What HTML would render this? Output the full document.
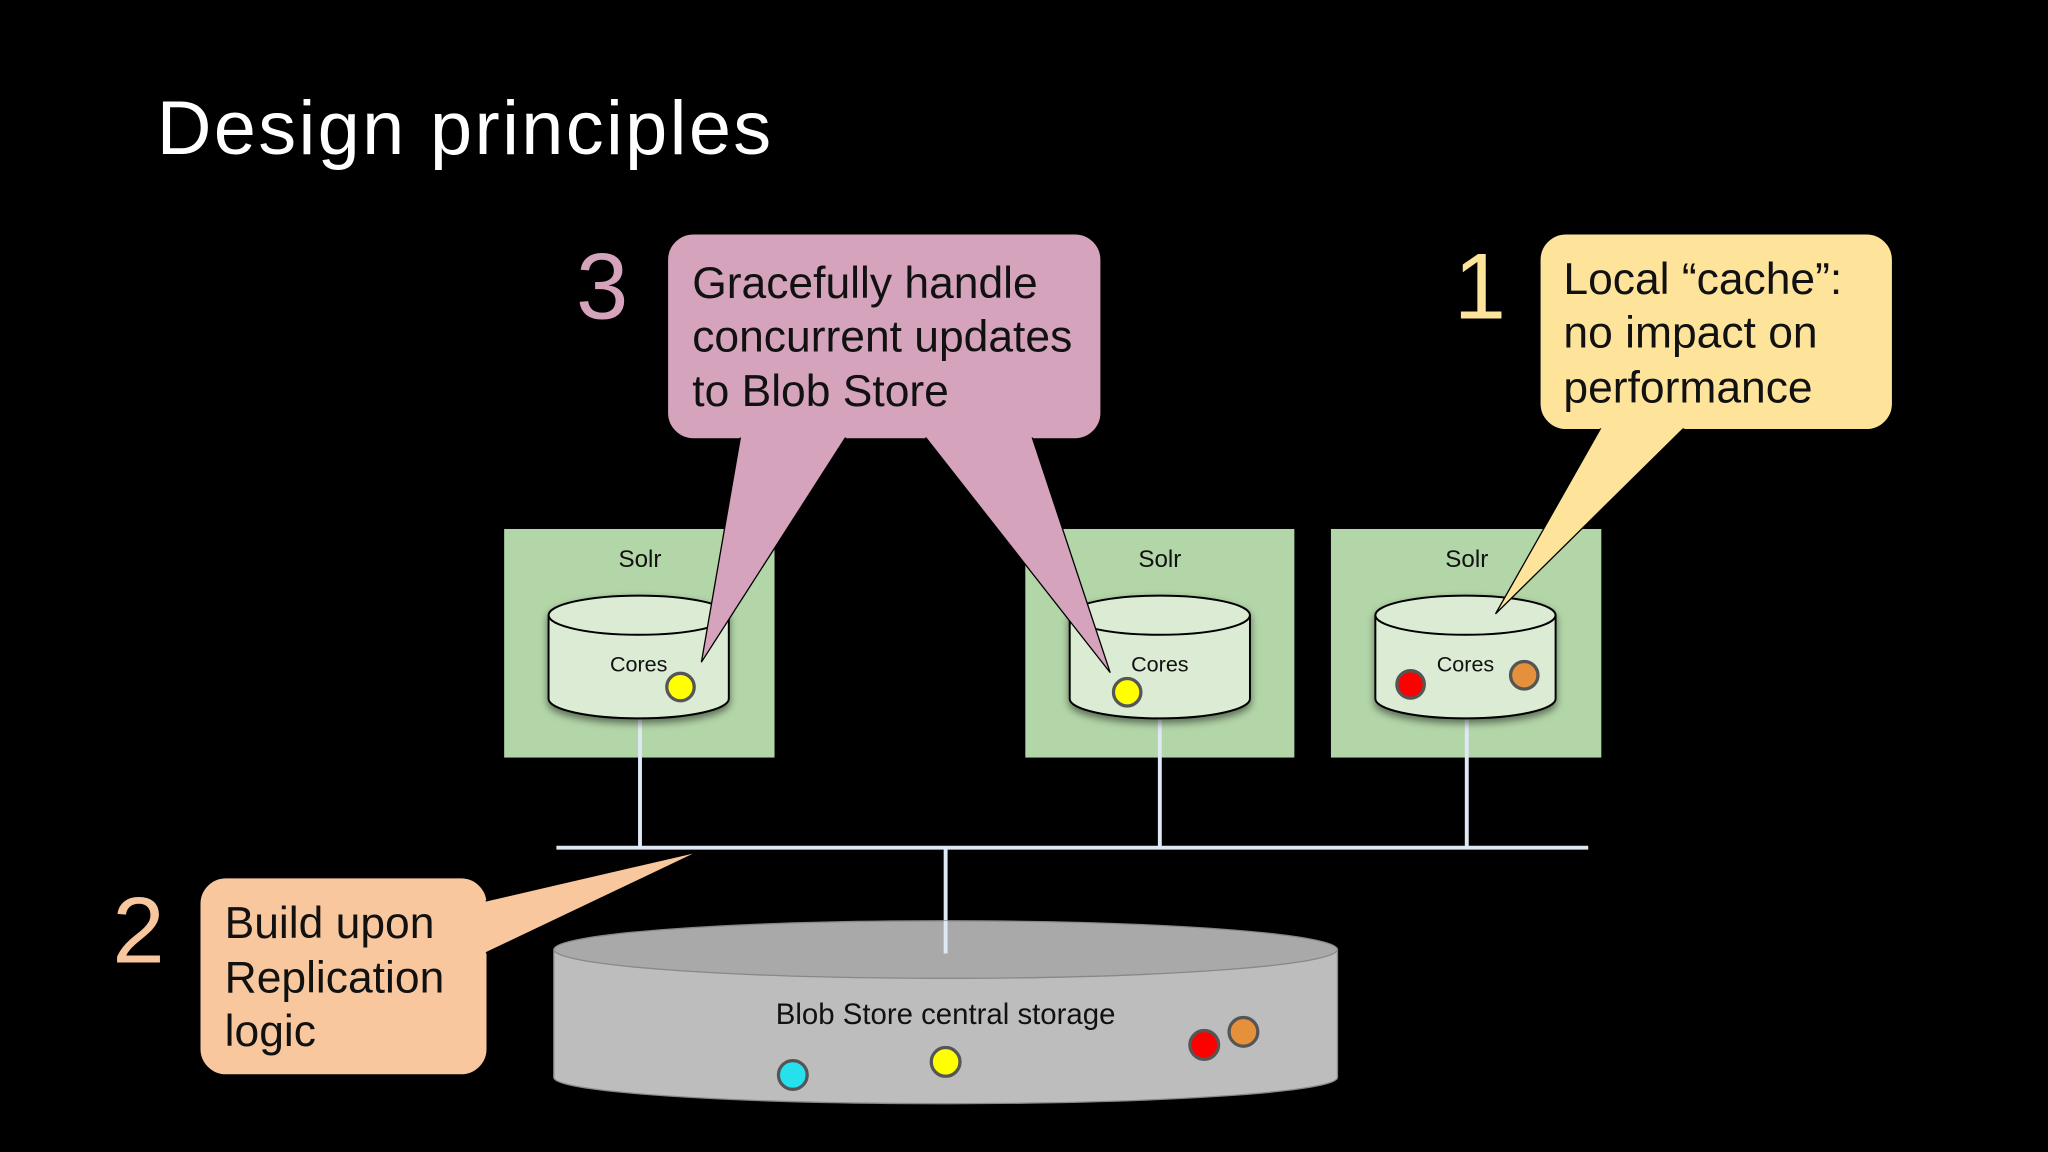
<!DOCTYPE html>
<html><head><meta charset="utf-8"><style>
html,body{margin:0;padding:0;background:#000;width:2048px;height:1152px;overflow:hidden}
svg{display:block}
text{font-family:"Liberation Sans",sans-serif}
</style></head><body>
<svg width="2048" height="1152" viewBox="0 0 1568 882" xmlns="http://www.w3.org/2000/svg">
<defs>
<filter id="sh" x="-20%" y="-20%" width="140%" height="160%"><feDropShadow dx="0" dy="3" stdDeviation="3" flood-color="#000" flood-opacity="0.5"/></filter>
</defs>
<rect width="1568" height="882" fill="#000"/>
<text x="120" y="118" font-size="58" letter-spacing="1.8" fill="#fff">Design principles</text>

<g>
<rect x="386" y="405" width="207" height="175" fill="#b3d6a8"/>
<rect x="785" y="405" width="206" height="175" fill="#b3d6a8"/>
<rect x="1019" y="405" width="207" height="175" fill="#b3d6a8"/>
<text x="490" y="434" font-size="18.5" text-anchor="middle" fill="#111">Solr</text>
<text x="888" y="434" font-size="18.5" text-anchor="middle" fill="#111">Solr</text>
<text x="1123" y="434" font-size="18.5" text-anchor="middle" fill="#111">Solr</text>
</g>

<g stroke="#dfe8f5" stroke-width="3" fill="none">
<line x1="490" y1="550" x2="490" y2="648"/>
<line x1="888" y1="550" x2="888" y2="648"/>
<line x1="1123" y1="550" x2="1123" y2="648"/>
<line x1="426" y1="649" x2="1216" y2="649"/>
<line x1="724" y1="649" x2="724" y2="730"/>
</g>

<g stroke="#000" stroke-width="1.5" fill="#dcebd4">
<g filter="url(#sh)">
<path d="M420,471 L420,535 A69,15 0 0 0 558,535 L558,471"/>
<ellipse cx="489" cy="471" rx="69" ry="15"/>
</g>
<g filter="url(#sh)">
<path d="M819,471 L819,535 A69,15 0 0 0 957,535 L957,471"/>
<ellipse cx="888" cy="471" rx="69" ry="15"/>
</g>
<g filter="url(#sh)">
<path d="M1053,471 L1053,535 A69,15 0 0 0 1191,535 L1191,471"/>
<ellipse cx="1122" cy="471" rx="69" ry="15"/>
</g>
</g>
<text x="489" y="514" font-size="16.5" text-anchor="middle" fill="#111">Cores</text>
<text x="888" y="514" font-size="16.5" text-anchor="middle" fill="#111">Cores</text>
<text x="1122" y="514" font-size="16.5" text-anchor="middle" fill="#111">Cores</text>

<g fill="#bdbdbd" stroke="#888" stroke-width="1">
<path d="M424,727 L424,825 A300,20 0 0 0 1024,825 L1024,727"/>
<ellipse cx="724" cy="727" rx="300" ry="22" fill="#a9a9a9"/>
</g>
<line x1="724" y1="705" x2="724" y2="730" stroke="#dfe8f5" stroke-width="3"/>
<text x="724" y="784" font-size="22.5" text-anchor="middle" fill="#111">Blob Store central storage</text>

<g stroke="#555" stroke-width="2.5">
<circle cx="521" cy="526" r="10.5" fill="#ffff00"/>
<circle cx="863" cy="530" r="10.5" fill="#ffff00"/>
<circle cx="1080" cy="524" r="10.5" fill="#ff0000"/>
<circle cx="1167" cy="517" r="10.5" fill="#e5913b"/>
<circle cx="607" cy="823" r="11" fill="#27e0ee"/>
<circle cx="724" cy="813" r="11" fill="#ffff00"/>
<circle cx="922" cy="800" r="11" fill="#ff0000"/>
<circle cx="952" cy="790" r="11" fill="#e5913b"/>
</g>

<g fill="#d5a3bc" stroke="#000" stroke-width="1">
<rect x="511" y="179" width="332" height="157" rx="20"/>
<path d="M567,334 L537,507 L648,334 Z"/>
<path d="M708,334 L850,515 L790,334 Z"/>
</g>
<rect x="512" y="180" width="330" height="155" rx="19" fill="#d5a3bc"/>
<text font-size="34" fill="#111"><tspan x="530" y="228">Gracefully handle</tspan><tspan x="530" y="269">concurrent updates</tspan><tspan x="530" y="311">to Blob Store</tspan></text>
<text x="441" y="244" font-size="72" fill="#d5a3bc">3</text>

<g fill="#fde49a" stroke="#000" stroke-width="1">
<rect x="1179" y="179" width="270" height="150" rx="20"/>
<path d="M1226,327 L1145,470 L1290,327 Z"/>
</g>
<rect x="1180" y="180" width="268" height="148" rx="19" fill="#fde49a"/>
<text font-size="34" fill="#111"><tspan x="1197" y="225">Local “cache”:</tspan><tspan x="1197" y="266">no impact on</tspan><tspan x="1197" y="308">performance</tspan></text>
<text x="1113" y="244" font-size="72" fill="#fde49a">1</text>

<g fill="#f9c79d" stroke="#000" stroke-width="1">
<rect x="153" y="672" width="220" height="151" rx="20"/>
<path d="M371,690 L535,652 L371,730 Z"/>
</g>
<rect x="154" y="673" width="218" height="149" rx="19" fill="#f9c79d"/>
<text font-size="34" fill="#111"><tspan x="172" y="718">Build upon</tspan><tspan x="172" y="760">Replication</tspan><tspan x="172" y="801">logic</tspan></text>
<text x="86" y="737" font-size="72" fill="#f9c79d">2</text>
</svg>
</body></html>
